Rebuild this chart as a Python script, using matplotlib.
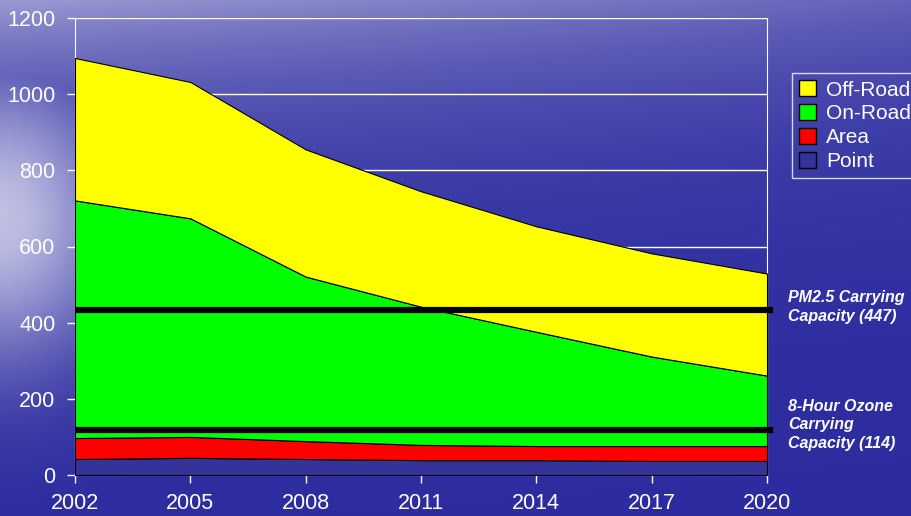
import numpy as np
import matplotlib.pyplot as plt
from matplotlib.patches import Patch

years = [2002, 2005, 2008, 2011, 2014, 2017, 2020]
point = [42, 45, 42, 39, 39, 37, 37]
area = [55, 55, 47, 40, 37, 39, 39]
on_road = [624, 574, 432, 363, 300, 235, 185]
off_road = [374, 358, 334, 303, 277, 271, 268]

pm25_cap = 434
ozone_cap = 118

series_names = ['Point', 'Area', 'On-Road', 'Off-Road']
series_colors = ['#333399', '#ff0000', '#00ff00', '#ffff00']

plt.rcParams['font.family'] = ['Liberation Sans', 'DejaVu Sans']

fig = plt.figure(figsize=(9.11, 5.16), dpi=100)

# background: ocean/sky gradient
h, w = 516, 911
yy, xx = np.mgrid[0:h, 0:w]
xf = xx / w
yf = yy / h
sky = 0.6 * np.exp(-yf / 0.22) * (1 - 0.5 * xf)
glow = 0.8 * np.exp(-(xf / 0.13) ** 2 - ((yf - 0.42) / 0.28) ** 2)
wgt = np.clip(np.maximum(sky, glow), 0, 1)[..., None]
dark = np.array([0x2c, 0x2c, 0xa0]) / 255
light = np.array([0xe4, 0xe4, 0xf4]) / 255
bg = dark * (1 - wgt) + light * wgt
bg_ax = fig.add_axes([0, 0, 1, 1], zorder=0)
bg_ax.imshow(bg, aspect='auto', extent=[0, 1, 0, 1])
bg_ax.axis('off')

ax = fig.add_axes([75 / 911, 1 - 475 / 516, 692 / 911, 457 / 516], zorder=1)
ax.patch.set_alpha(0)

stack = np.vstack([point, area, on_road, off_road]).cumsum(axis=0)
bottom = np.zeros(len(years))
for i, name in enumerate(series_names):
    ax.fill_between(years, bottom, stack[i], facecolor=series_colors[i],
                    edgecolor='black', linewidth=0.8, zorder=3)
    bottom = stack[i]

ax.plot([2002, 2020.15], [pm25_cap, pm25_cap], color='black', lw=4.5,
        zorder=4, clip_on=False, solid_capstyle='butt')
ax.plot([2002, 2020.15], [ozone_cap, ozone_cap], color='black', lw=4.5,
        zorder=4, clip_on=False, solid_capstyle='butt')

ax.set_xlim(2002, 2020)
ax.set_ylim(0, 1200)
ax.set_xticks(years)
ax.set_yticks(range(0, 1201, 200))
ax.grid(axis='y', color='white', lw=1, zorder=0)
ax.tick_params(colors='white', labelsize=15.5, length=6, width=1)
ax.tick_params(axis='y', pad=8)
ax.tick_params(axis='x', pad=7)
for s in ['left', 'right', 'bottom']:
    ax.spines[s].set_color('white')
ax.spines['top'].set_visible(False)

handles = [Patch(facecolor=series_colors[i], edgecolor='black', label=series_names[i])
           for i in [3, 2, 1, 0]]
leg = fig.legend(handles=handles, loc='upper left', bbox_to_anchor=(792 / 911, 1 - 73 / 516),
                 fontsize=15, frameon=True, fancybox=False, handlelength=0.8,
                 handleheight=0.8, handletextpad=0.5, labelspacing=0.22,
                 borderpad=0.35, borderaxespad=0)
leg.get_frame().set_facecolor('none')
leg.get_frame().set_edgecolor('white')
for t in leg.get_texts():
    t.set_color('white')

fig.text(788 / 911, 1 - 307 / 516, 'PM2.5 Carrying\nCapacity (447)', color='white',
         fontsize=11.5, fontweight='bold', fontstyle='italic', va='center', linespacing=1.3)
fig.text(788 / 911, 1 - 425 / 516, '8-Hour Ozone\nCarrying\nCapacity (114)', color='white',
         fontsize=11.5, fontweight='bold', fontstyle='italic', va='center', linespacing=1.3)

fig.savefig('out.png', dpi=100)
